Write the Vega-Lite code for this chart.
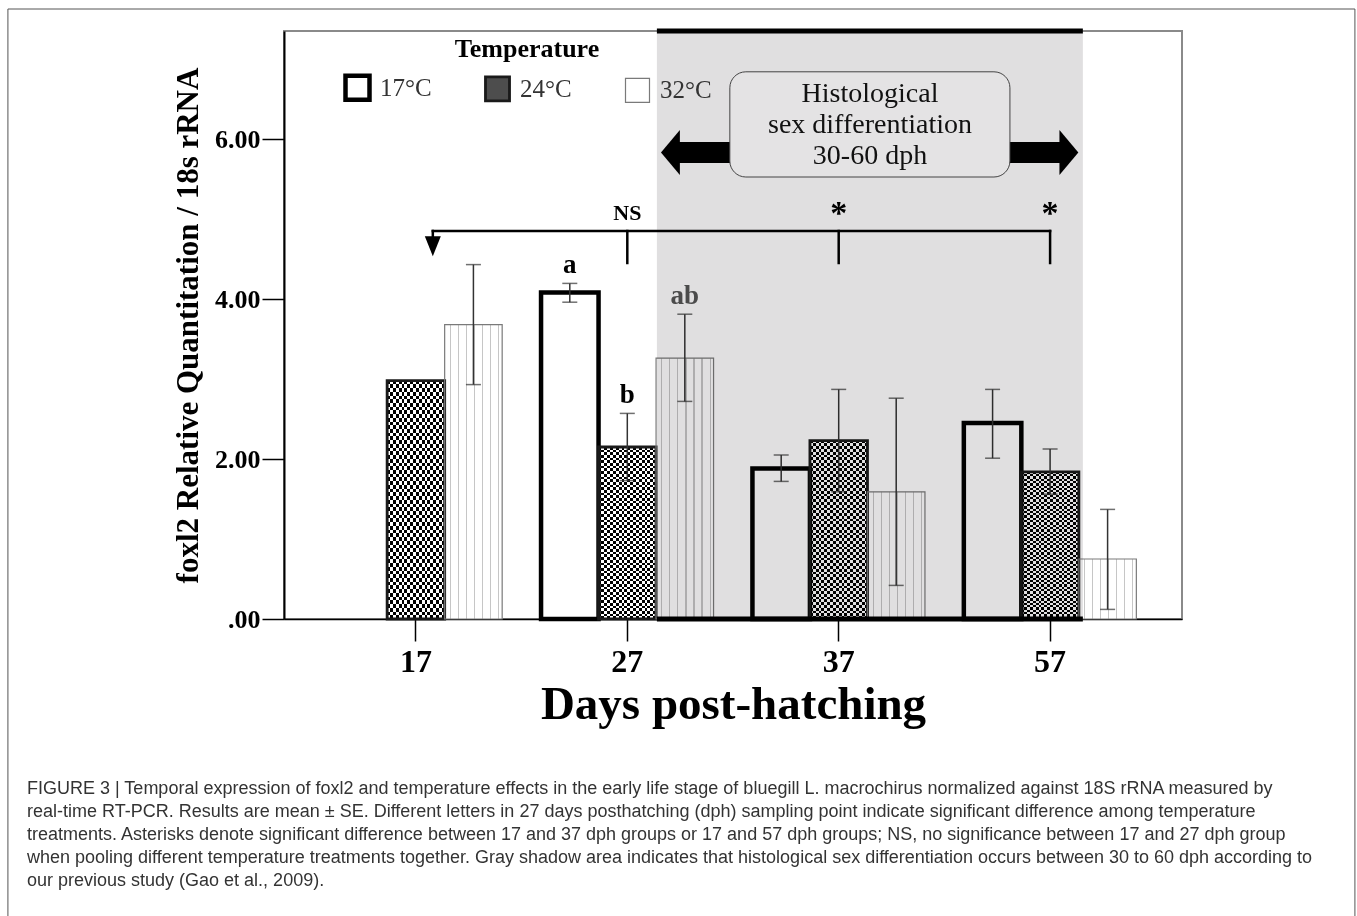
{
"$schema": "https://vega.github.io/schema/vega-lite/v6.json",
"width": 898,
"height": 588,
"autosize": {"type": "none"},
"padding": {"left": 284, "top": 31, "right": 175, "bottom": 297},
"background": "white",
"title": {
  "text": [
    "FIGURE 3 | Temporal expression of foxl2 and temperature effects in the early life stage of bluegill L. macrochirus normalized against 18S rRNA measured by",
    "real-time RT-PCR. Results are mean ± SE. Different letters in 27 days posthatching (dph) sampling point indicate significant difference among temperature",
    "treatments. Asterisks denote significant difference between 17 and 37 dph groups or 17 and 57 dph groups; NS, no significance between 17 and 27 dph group",
    "when pooling different temperature treatments together. Gray shadow area indicates that histological sex differentiation occurs between 30 to 60 dph according to",
    "our previous study (Gao et al., 2009)."
  ],
  "orient": "bottom",
  "anchor": "start",
  "frame": "group",
  "baseline": "top",
  "dx": -257,
  "offset": -144,
  "font": "Liberation Sans",
  "fontSize": 18,
  "fontWeight": "normal",
  "color": "#333333",
  "lineHeight": 23
},
"config": {
  "font": "Liberation Serif",
  "view": {"stroke": "#8a8a8a", "strokeWidth": 2},
  "axis": {"grid": false, "domainColor": "#000", "tickColor": "#000", "labelColor": "#000", "titleColor": "#000", "labelFont": "Liberation Serif", "titleFont": "Liberation Serif", "labelFontWeight": "bold", "titleFontWeight": "bold"},
  "axisX": {"domainWidth": 1.5, "tickWidth": 1.5, "tickSize": 22, "labelFontSize": 32, "labelPadding": 5, "titleFontSize": 47, "titlePadding": 4, "labelAngle": 0},
  "axisY": {"domainWidth": 2, "tickWidth": 1.5, "tickSize": 22, "labelFontSize": 26, "labelPadding": 2, "titleFontSize": 31, "titlePadding": 10},
  "legend": {"orient": "none", "legendX": 59, "legendY": 5, "direction": "horizontal", "columns": 3, "gridAlign": "all", "titleFont": "Liberation Serif", "titleFontSize": 26, "titleFontWeight": "bold", "titleColor": "#000", "titleAnchor": "middle", "titlePadding": 11, "labelFont": "Liberation Serif", "labelFontSize": 25, "labelColor": "#333", "labelOffset": 8, "symbolType": "square", "symbolSize": 576, "symbolOpacity": 1, "columnPadding": 47, "padding": 0}
},
"datasets": {
  "expr": [
    {"day": "17", "temp": "17°C", "mean": null, "lo": null, "hi": null, "sig": null},
    {"day": "17", "temp": "24°C", "mean": 2.98, "lo": null, "hi": null, "sig": null},
    {"day": "17", "temp": "32°C", "mean": 3.68, "lo": 2.93, "hi": 4.43, "sig": null},
    {"day": "27", "temp": "17°C", "mean": 4.08, "lo": 3.96, "hi": 4.195, "sig": "a"},
    {"day": "27", "temp": "24°C", "mean": 2.15, "lo": 1.73, "hi": 2.57, "sig": "b"},
    {"day": "27", "temp": "32°C", "mean": 3.26, "lo": 2.72, "hi": 3.81, "sig": "ab"},
    {"day": "37", "temp": "17°C", "mean": 1.88, "lo": 1.72, "hi": 2.05, "sig": null},
    {"day": "37", "temp": "24°C", "mean": 2.23, "lo": 1.59, "hi": 2.87, "sig": null},
    {"day": "37", "temp": "32°C", "mean": 1.59, "lo": 0.42, "hi": 2.76, "sig": null},
    {"day": "57", "temp": "17°C", "mean": 2.45, "lo": 2.01, "hi": 2.87, "sig": null},
    {"day": "57", "temp": "24°C", "mean": 1.84, "lo": 1.56, "hi": 2.125, "sig": null},
    {"day": "57", "temp": "32°C", "mean": 0.75, "lo": 0.12, "hi": 1.37, "sig": null}
  ]
},
"layer": [
  {
    "data": {"name": "expr"},
    "layer": [
      {
        "transform": [{"filter": "datum.mean != null"}],
        "mark": {"type": "bar", "strokeWidth": 0},
        "encoding": {
          "x": {"field": "day", "type": "nominal", "scale": {"domain": ["17", "27", "37", "57"], "paddingInner": 0, "paddingOuter": 0.124}, "axis": {"title": "Days post-hatching", "labelAngle": 0}},
          "xOffset": {"field": "temp", "type": "nominal", "scale": {"domain": ["17°C", "24°C", "32°C"], "paddingInner": 0, "paddingOuter": 0.338}},
          "y": {"field": "mean", "type": "quantitative", "scale": {"domain": [0, 7.35], "nice": false, "zero": true}, "axis": {"title": "foxl2 Relative Quantitation / 18s rRNA", "values": [0, 2, 4, 6], "labelExpr": "datum.value === 0 ? '.00' : format(datum.value, '.2f')"}},
          "fill": {"field": "temp", "type": "nominal", "title": "Temperature", "scale": {"domain": ["17°C", "24°C", "32°C"], "range": ["#ffffff", "#4d4d4d", "#ffffff"]}}
        }
      },
      {
        "transform": [{"filter": "datum.temp === '24°C' && datum.mean != null"}],
        "mark": {"type": "bar", "strokeWidth": 0, "fill": {"gradient": "linear", "x1": 0, "y1": 0, "x2": 1, "y2": 0, "stops": [
          {"offset": 0, "color": "#000"}, {"offset": 0.05, "color": "#000"}, {"offset": 0.05, "color": "#fff"}, {"offset": 0.1, "color": "#fff"},
          {"offset": 0.1, "color": "#000"}, {"offset": 0.15, "color": "#000"}, {"offset": 0.15, "color": "#fff"}, {"offset": 0.2, "color": "#fff"},
          {"offset": 0.2, "color": "#000"}, {"offset": 0.25, "color": "#000"}, {"offset": 0.25, "color": "#fff"}, {"offset": 0.3, "color": "#fff"},
          {"offset": 0.3, "color": "#000"}, {"offset": 0.35, "color": "#000"}, {"offset": 0.35, "color": "#fff"}, {"offset": 0.4, "color": "#fff"},
          {"offset": 0.4, "color": "#000"}, {"offset": 0.45, "color": "#000"}, {"offset": 0.45, "color": "#fff"}, {"offset": 0.5, "color": "#fff"},
          {"offset": 0.5, "color": "#000"}, {"offset": 0.55, "color": "#000"}, {"offset": 0.55, "color": "#fff"}, {"offset": 0.6, "color": "#fff"},
          {"offset": 0.6, "color": "#000"}, {"offset": 0.65, "color": "#000"}, {"offset": 0.65, "color": "#fff"}, {"offset": 0.7, "color": "#fff"},
          {"offset": 0.7, "color": "#000"}, {"offset": 0.75, "color": "#000"}, {"offset": 0.75, "color": "#fff"}, {"offset": 0.8, "color": "#fff"},
          {"offset": 0.8, "color": "#000"}, {"offset": 0.85, "color": "#000"}, {"offset": 0.85, "color": "#fff"}, {"offset": 0.9, "color": "#fff"},
          {"offset": 0.9, "color": "#000"}, {"offset": 0.95, "color": "#000"}, {"offset": 0.95, "color": "#fff"}, {"offset": 1, "color": "#fff"}
        ]}},
        "encoding": {
          "x": {"field": "day", "type": "nominal"},
          "xOffset": {"field": "temp", "type": "nominal"},
          "y": {"field": "mean", "type": "quantitative"}
        }
      },
      {
        "transform": [{"filter": "datum.temp === '24°C' && datum.mean != null"}],
        "mark": {"type": "bar", "strokeWidth": 0, "blend": "difference", "fill": {"gradient": "linear", "x1": 0, "y1": 0, "x2": 0, "y2": 1, "stops": [
          {"offset": 0, "color": "#000"}, {"offset": 0.015625, "color": "#000"}, {"offset": 0.015625, "color": "#fff"}, {"offset": 0.03125, "color": "#fff"},
          {"offset": 0.03125, "color": "#000"}, {"offset": 0.046875, "color": "#000"}, {"offset": 0.046875, "color": "#fff"}, {"offset": 0.0625, "color": "#fff"},
          {"offset": 0.0625, "color": "#000"}, {"offset": 0.078125, "color": "#000"}, {"offset": 0.078125, "color": "#fff"}, {"offset": 0.09375, "color": "#fff"},
          {"offset": 0.09375, "color": "#000"}, {"offset": 0.109375, "color": "#000"}, {"offset": 0.109375, "color": "#fff"}, {"offset": 0.125, "color": "#fff"},
          {"offset": 0.125, "color": "#000"}, {"offset": 0.140625, "color": "#000"}, {"offset": 0.140625, "color": "#fff"}, {"offset": 0.15625, "color": "#fff"},
          {"offset": 0.15625, "color": "#000"}, {"offset": 0.171875, "color": "#000"}, {"offset": 0.171875, "color": "#fff"}, {"offset": 0.1875, "color": "#fff"},
          {"offset": 0.1875, "color": "#000"}, {"offset": 0.203125, "color": "#000"}, {"offset": 0.203125, "color": "#fff"}, {"offset": 0.21875, "color": "#fff"},
          {"offset": 0.21875, "color": "#000"}, {"offset": 0.234375, "color": "#000"}, {"offset": 0.234375, "color": "#fff"}, {"offset": 0.25, "color": "#fff"},
          {"offset": 0.25, "color": "#000"}, {"offset": 0.265625, "color": "#000"}, {"offset": 0.265625, "color": "#fff"}, {"offset": 0.28125, "color": "#fff"},
          {"offset": 0.28125, "color": "#000"}, {"offset": 0.296875, "color": "#000"}, {"offset": 0.296875, "color": "#fff"}, {"offset": 0.3125, "color": "#fff"},
          {"offset": 0.3125, "color": "#000"}, {"offset": 0.328125, "color": "#000"}, {"offset": 0.328125, "color": "#fff"}, {"offset": 0.34375, "color": "#fff"},
          {"offset": 0.34375, "color": "#000"}, {"offset": 0.359375, "color": "#000"}, {"offset": 0.359375, "color": "#fff"}, {"offset": 0.375, "color": "#fff"},
          {"offset": 0.375, "color": "#000"}, {"offset": 0.390625, "color": "#000"}, {"offset": 0.390625, "color": "#fff"}, {"offset": 0.40625, "color": "#fff"},
          {"offset": 0.40625, "color": "#000"}, {"offset": 0.421875, "color": "#000"}, {"offset": 0.421875, "color": "#fff"}, {"offset": 0.4375, "color": "#fff"},
          {"offset": 0.4375, "color": "#000"}, {"offset": 0.453125, "color": "#000"}, {"offset": 0.453125, "color": "#fff"}, {"offset": 0.46875, "color": "#fff"},
          {"offset": 0.46875, "color": "#000"}, {"offset": 0.484375, "color": "#000"}, {"offset": 0.484375, "color": "#fff"}, {"offset": 0.5, "color": "#fff"},
          {"offset": 0.5, "color": "#000"}, {"offset": 0.515625, "color": "#000"}, {"offset": 0.515625, "color": "#fff"}, {"offset": 0.53125, "color": "#fff"},
          {"offset": 0.53125, "color": "#000"}, {"offset": 0.546875, "color": "#000"}, {"offset": 0.546875, "color": "#fff"}, {"offset": 0.5625, "color": "#fff"},
          {"offset": 0.5625, "color": "#000"}, {"offset": 0.578125, "color": "#000"}, {"offset": 0.578125, "color": "#fff"}, {"offset": 0.59375, "color": "#fff"},
          {"offset": 0.59375, "color": "#000"}, {"offset": 0.609375, "color": "#000"}, {"offset": 0.609375, "color": "#fff"}, {"offset": 0.625, "color": "#fff"},
          {"offset": 0.625, "color": "#000"}, {"offset": 0.640625, "color": "#000"}, {"offset": 0.640625, "color": "#fff"}, {"offset": 0.65625, "color": "#fff"},
          {"offset": 0.65625, "color": "#000"}, {"offset": 0.671875, "color": "#000"}, {"offset": 0.671875, "color": "#fff"}, {"offset": 0.6875, "color": "#fff"},
          {"offset": 0.6875, "color": "#000"}, {"offset": 0.703125, "color": "#000"}, {"offset": 0.703125, "color": "#fff"}, {"offset": 0.71875, "color": "#fff"},
          {"offset": 0.71875, "color": "#000"}, {"offset": 0.734375, "color": "#000"}, {"offset": 0.734375, "color": "#fff"}, {"offset": 0.75, "color": "#fff"},
          {"offset": 0.75, "color": "#000"}, {"offset": 0.765625, "color": "#000"}, {"offset": 0.765625, "color": "#fff"}, {"offset": 0.78125, "color": "#fff"},
          {"offset": 0.78125, "color": "#000"}, {"offset": 0.796875, "color": "#000"}, {"offset": 0.796875, "color": "#fff"}, {"offset": 0.8125, "color": "#fff"},
          {"offset": 0.8125, "color": "#000"}, {"offset": 0.828125, "color": "#000"}, {"offset": 0.828125, "color": "#fff"}, {"offset": 0.84375, "color": "#fff"},
          {"offset": 0.84375, "color": "#000"}, {"offset": 0.859375, "color": "#000"}, {"offset": 0.859375, "color": "#fff"}, {"offset": 0.875, "color": "#fff"},
          {"offset": 0.875, "color": "#000"}, {"offset": 0.890625, "color": "#000"}, {"offset": 0.890625, "color": "#fff"}, {"offset": 0.90625, "color": "#fff"},
          {"offset": 0.90625, "color": "#000"}, {"offset": 0.921875, "color": "#000"}, {"offset": 0.921875, "color": "#fff"}, {"offset": 0.9375, "color": "#fff"},
          {"offset": 0.9375, "color": "#000"}, {"offset": 0.953125, "color": "#000"}, {"offset": 0.953125, "color": "#fff"}, {"offset": 0.96875, "color": "#fff"},
          {"offset": 0.96875, "color": "#000"}, {"offset": 0.984375, "color": "#000"}, {"offset": 0.984375, "color": "#fff"}, {"offset": 1, "color": "#fff"}
        ]}},
        "encoding": {
          "x": {"field": "day", "type": "nominal"},
          "xOffset": {"field": "temp", "type": "nominal"},
          "y": {"field": "mean", "type": "quantitative"}
        }
      },
      {
        "transform": [{"filter": "datum.temp === '32°C' && datum.mean != null"}],
        "mark": {"type": "bar", "strokeWidth": 0, "fill": {"gradient": "linear", "x1": 0, "y1": 0, "x2": 1, "y2": 0, "stops": [
          {"offset": 0, "color": "#fff"}, {"offset": 0.09, "color": "#fff"}, {"offset": 0.09, "color": "#c6c6c6"}, {"offset": 0.11, "color": "#c6c6c6"},
          {"offset": 0.11, "color": "#fff"}, {"offset": 0.23, "color": "#fff"}, {"offset": 0.23, "color": "#c6c6c6"}, {"offset": 0.25, "color": "#c6c6c6"},
          {"offset": 0.25, "color": "#fff"}, {"offset": 0.37, "color": "#fff"}, {"offset": 0.37, "color": "#c6c6c6"}, {"offset": 0.39, "color": "#c6c6c6"},
          {"offset": 0.39, "color": "#fff"}, {"offset": 0.51, "color": "#fff"}, {"offset": 0.51, "color": "#c6c6c6"}, {"offset": 0.53, "color": "#c6c6c6"},
          {"offset": 0.53, "color": "#fff"}, {"offset": 0.65, "color": "#fff"}, {"offset": 0.65, "color": "#c6c6c6"}, {"offset": 0.67, "color": "#c6c6c6"},
          {"offset": 0.67, "color": "#fff"}, {"offset": 0.79, "color": "#fff"}, {"offset": 0.79, "color": "#c6c6c6"}, {"offset": 0.81, "color": "#c6c6c6"},
          {"offset": 0.81, "color": "#fff"}, {"offset": 0.93, "color": "#fff"}, {"offset": 0.93, "color": "#c6c6c6"}, {"offset": 0.95, "color": "#c6c6c6"},
          {"offset": 0.95, "color": "#fff"}, {"offset": 1, "color": "#fff"}
        ]}},
        "encoding": {
          "x": {"field": "day", "type": "nominal"},
          "xOffset": {"field": "temp", "type": "nominal"},
          "y": {"field": "mean", "type": "quantitative"}
        }
      },
      {
        "transform": [{"filter": "datum.mean != null"}],
        "mark": {"type": "bar", "fill": "transparent", "strokeJoin": "miter"},
        "encoding": {
          "x": {"field": "day", "type": "nominal"},
          "xOffset": {"field": "temp", "type": "nominal"},
          "y": {"field": "mean", "type": "quantitative"},
          "stroke": {"field": "temp", "type": "nominal", "title": "Temperature", "scale": {"domain": ["17°C", "24°C", "32°C"], "range": ["#000000", "#1a1a1a", "#7a7a7a"]}},
          "strokeWidth": {"field": "temp", "type": "ordinal", "title": "Temperature", "scale": {"domain": ["17°C", "24°C", "32°C"], "range": [4.5, 1.2], "padding": 0}}
        }
      },
      {
        "transform": [{"filter": "datum.hi != null"}],
        "mark": {"type": "rule", "color": "#333333", "strokeWidth": 1.5},
        "encoding": {
          "x": {"field": "day", "type": "nominal"},
          "xOffset": {"field": "temp", "type": "nominal"},
          "y": {"field": "lo", "type": "quantitative"},
          "y2": {"field": "hi"}
        }
      },
      {
        "transform": [{"filter": "datum.hi != null"}],
        "mark": {"type": "tick", "orient": "horizontal", "color": "#333333", "size": 15, "thickness": 1.5},
        "encoding": {
          "x": {"field": "day", "type": "nominal"},
          "xOffset": {"field": "temp", "type": "nominal"},
          "y": {"field": "hi", "type": "quantitative"}
        }
      },
      {
        "transform": [{"filter": "datum.hi != null"}],
        "mark": {"type": "tick", "orient": "horizontal", "color": "#333333", "size": 15, "thickness": 1.5},
        "encoding": {
          "x": {"field": "day", "type": "nominal"},
          "xOffset": {"field": "temp", "type": "nominal"},
          "y": {"field": "lo", "type": "quantitative"}
        }
      },
      {
        "transform": [{"filter": "datum.sig != null"}],
        "mark": {"type": "text", "font": "Liberation Serif", "fontWeight": "bold", "fontSize": 27, "baseline": "alphabetic", "align": "center", "dy": -10},
        "encoding": {
          "x": {"field": "day", "type": "nominal"},
          "xOffset": {"field": "temp", "type": "nominal"},
          "y": {"field": "hi", "type": "quantitative"},
          "text": {"field": "sig"},
          "color": {"condition": {"test": "datum.sig === 'ab'", "value": "#555555"}, "value": "#000000"}
        }
      }
    ]
  },
  {
    "layer": [
      {
        "data": {"values": [{"s": 1.14, "s2": 3.155, "v": 0, "v2": 7.35}]},
        "mark": {"type": "rect", "fill": "#e0dfe0", "blend": "multiply"},
        "encoding": {
          "x": {"field": "s", "type": "quantitative", "scale": {"domain": [-0.624, 3.624], "nice": false, "zero": false}, "axis": null},
          "x2": {"field": "s2"},
          "y": {"field": "v", "type": "quantitative"},
          "y2": {"field": "v2"}
        }
      },
      {
        "data": {"values": [{"s": 1.14, "s2": 3.155, "v": 7.35}, {"s": 1.14, "s2": 3.155, "v": 0}]},
        "mark": {"type": "rule", "color": "#000", "strokeWidth": 5},
        "encoding": {
          "x": {"field": "s", "type": "quantitative", "axis": null},
          "x2": {"field": "s2"},
          "y": {"field": "v", "type": "quantitative"}
        }
      },
      {
        "data": {"values": [
          {"s": 0.08, "s2": 3.0, "v": 4.85, "v2": 4.85},
          {"s": 0.08, "s2": 0.08, "v": 4.85, "v2": 4.7},
          {"s": 1, "s2": 1, "v": 4.85, "v2": 4.45},
          {"s": 2, "s2": 2, "v": 4.85, "v2": 4.45},
          {"s": 3, "s2": 3, "v": 4.85, "v2": 4.45}
        ]},
        "mark": {"type": "rule", "color": "#000", "strokeWidth": 2.5, "strokeCap": "square"},
        "encoding": {
          "x": {"field": "s", "type": "quantitative", "axis": null},
          "x2": {"field": "s2"},
          "y": {"field": "v", "type": "quantitative"},
          "y2": {"field": "v2"}
        }
      },
      {
        "data": {"values": [{"s": 0.08, "v": 4.66}]},
        "mark": {"type": "point", "shape": "M -0.8,-1 L 0.8,-1 L 0,1 Z", "size": 400, "filled": true, "fill": "#000", "strokeWidth": 0, "opacity": 1},
        "encoding": {
          "x": {"field": "s", "type": "quantitative", "axis": null},
          "y": {"field": "v", "type": "quantitative"}
        }
      },
      {
        "data": {"values": [{"s": 1, "v": 5.07, "t": "NS"}, {"s": 2, "v": 5.06, "t": "*"}, {"s": 3, "v": 5.06, "t": "*"}]},
        "mark": {"type": "text", "font": "Liberation Serif", "fontWeight": "bold", "baseline": "middle", "align": "center", "color": "#000"},
        "encoding": {
          "x": {"field": "s", "type": "quantitative", "axis": null},
          "y": {"field": "v", "type": "quantitative"},
          "text": {"field": "t"},
          "size": {"condition": {"test": "datum.t === '*'", "value": 34}, "value": 22}
        }
      },
      {
        "data": {"values": [{"s": 1.21, "s2": 3.08, "v": 5.83}]},
        "mark": {"type": "rule", "color": "#000", "strokeWidth": 21, "strokeCap": "butt"},
        "encoding": {
          "x": {"field": "s", "type": "quantitative", "axis": null},
          "x2": {"field": "s2"},
          "y": {"field": "v", "type": "quantitative"}
        }
      },
      {
        "data": {"values": [{"s": 1.204, "v": 5.83, "dir": "left"}, {"s": 3.089, "v": 5.83, "dir": "right"}]},
        "mark": {"type": "point", "size": 2025, "filled": true, "fill": "#000", "strokeWidth": 0, "opacity": 1},
        "encoding": {
          "x": {"field": "s", "type": "quantitative", "axis": null},
          "y": {"field": "v", "type": "quantitative"},
          "shape": {"condition": {"test": "datum.dir === 'left'", "value": "M 0.42,-1 L -0.42,0 L 0.42,1 Z"}, "value": "M -0.42,-1 L 0.42,0 L -0.42,1 Z"}
        }
      },
      {
        "data": {"values": [{"s": 1.485, "s2": 2.81, "v": 5.525, "v2": 6.84}]},
        "mark": {"type": "rect", "fill": "#e4e3e4", "stroke": "#444", "strokeWidth": 1, "cornerRadius": 16},
        "encoding": {
          "x": {"field": "s", "type": "quantitative", "axis": null},
          "x2": {"field": "s2"},
          "y": {"field": "v", "type": "quantitative"},
          "y2": {"field": "v2"}
        }
      },
      {
        "data": {"values": [{"s": 2.148, "v": 6.565, "t": "Histological\nsex differentiation\n30-60 dph"}]},
        "mark": {"type": "text", "font": "Liberation Serif", "fontSize": 28, "lineBreak": "\n", "lineHeight": 31, "align": "center", "baseline": "middle", "color": "#111"},
        "encoding": {
          "x": {"field": "s", "type": "quantitative", "axis": null},
          "y": {"field": "v", "type": "quantitative"},
          "text": {"field": "t"}
        }
      },
      {
        "data": {"values": [{"s": -1.93, "s2": 4.442, "v": 7.625, "v2": -3.8}]},
        "mark": {"type": "rect", "fill": "transparent", "stroke": "#555", "strokeWidth": 1},
        "encoding": {
          "x": {"field": "s", "type": "quantitative", "axis": null},
          "x2": {"field": "s2"},
          "y": {"field": "v", "type": "quantitative"},
          "y2": {"field": "v2"}
        }
      }
    ]
  }
],
"resolve": {"scale": {"x": "independent"}}
}
